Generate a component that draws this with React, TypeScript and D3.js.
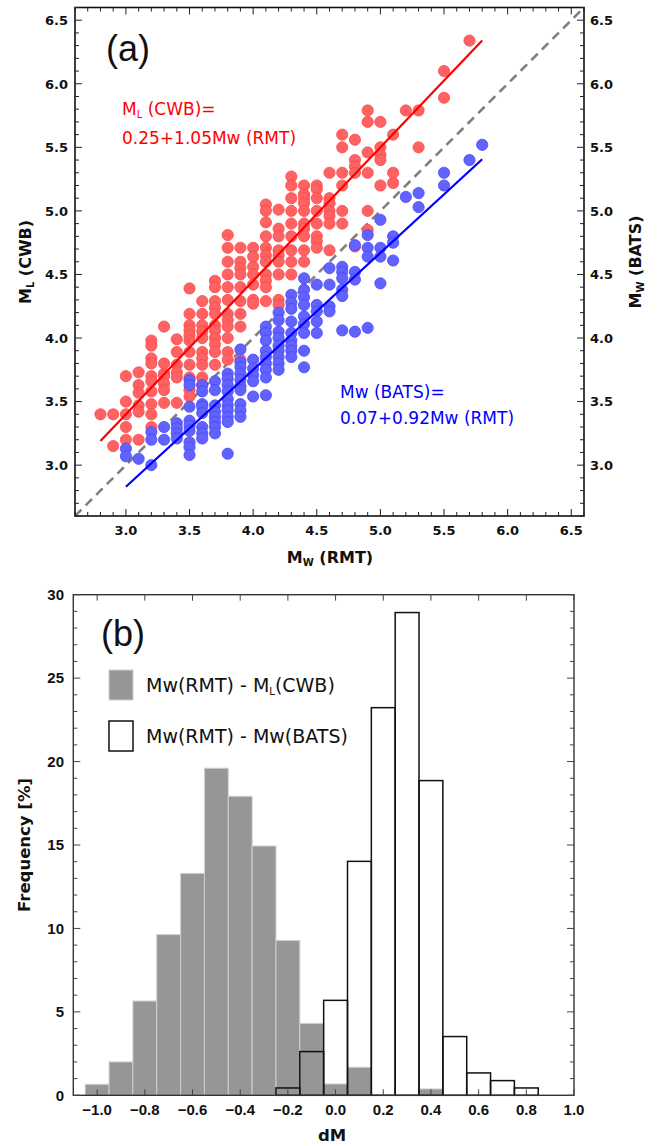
import * as d3 from 'd3';
import React, { useEffect, useRef } from 'react';

// ---- panel (a): magnitudes, grouped by Mw (RMT) ----
const mwRmtRed = [2.8, 2.9, 3.0, 3.1, 3.2, 3.3, 3.4, 3.5, 3.6, 3.7, 3.8, 3.9, 4.0, 4.1, 4.2, 4.3, 4.4, 4.5, 4.6, 4.7, 4.8, 4.9, 5.0, 5.1, 5.2, 5.3, 5.5, 5.7];
const mlCwb = [
  [3.4],
  [3.4, 3.15],
  [3.7, 3.5, 3.4, 3.3, 3.2],
  [3.73, 3.63, 3.57, 3.47, 3.42, 3.2],
  [3.98, 3.94, 3.84, 3.8, 3.7, 3.66, 3.58, 3.48, 3.4, 3.3],
  [4.09, 3.8, 3.72, 3.7, 3.64, 3.59, 3.49],
  [3.99, 3.89, 3.79, 3.73, 3.69, 3.49],
  [4.39, 4.19, 4.1, 4.06, 4.02, 3.98, 3.89, 3.79, 3.69, 3.59, 3.54],
  [4.29, 4.19, 4.1, 4.05, 4.0, 3.89, 3.84, 3.79, 3.69, 3.63],
  [4.45, 4.4, 4.29, 4.24, 4.19, 4.1, 4.06, 4.0, 3.95, 3.89, 3.79],
  [4.81, 4.71, 4.6, 4.5, 4.4, 4.3, 4.19, 4.14, 4.09, 4.0, 3.89, 3.83],
  [4.71, 4.6, 4.55, 4.5, 4.4, 4.29, 4.19, 4.09, 3.83],
  [4.71, 4.64, 4.56, 4.5, 4.42, 4.3, 4.27],
  [5.05, 5.0, 4.91, 4.8, 4.71, 4.65, 4.6, 4.5, 4.45, 4.4, 4.29],
  [5.01, 4.86, 4.8, 4.69, 4.65, 4.6, 4.5, 4.3, 4.26],
  [5.27, 5.2, 5.1, 5.0, 4.9, 4.8, 4.69, 4.6, 4.5],
  [5.2, 5.13, 5.1, 5.06, 5.0, 4.9, 4.86, 4.8, 4.69, 4.6],
  [5.2, 5.17, 5.1, 5.0, 4.9, 4.8, 4.76, 4.71],
  [5.3, 5.1, 5.06, 5.0, 4.96, 4.9, 4.69],
  [5.6, 5.5, 5.3, 5.2, 5.0, 4.9],
  [5.56, 5.4, 5.35, 5.3, 4.72],
  [5.79, 5.7, 5.46, 5.3, 5.0, 4.85],
  [5.7, 5.5, 5.44, 5.4, 5.2],
  [5.6, 5.3, 5.22],
  [5.79],
  [5.79, 5.5],
  [6.1, 5.89],
  [6.34],
];

const mwRmtBlue = [3.0, 3.1, 3.2, 3.3, 3.4, 3.5, 3.6, 3.7, 3.8, 3.9, 4.0, 4.1, 4.2, 4.3, 4.4, 4.5, 4.6, 4.7, 4.8, 4.9, 5.0, 5.1, 5.2, 5.3, 5.5, 5.7, 5.8];
const mwBats = [
  [3.13, 3.07],
  [3.05],
  [3.26, 3.2, 3.0],
  [3.3, 3.2],
  [3.33, 3.29, 3.25, 3.21],
  [3.67, 3.63, 3.46, 3.35, 3.31, 3.27, 3.18, 3.14, 3.08],
  [3.63, 3.58, 3.48, 3.46, 3.41, 3.3, 3.25, 3.21],
  [3.66, 3.59, 3.47, 3.42, 3.38, 3.34, 3.3, 3.25],
  [3.72, 3.68, 3.63, 3.58, 3.52, 3.47, 3.43, 3.38, 3.34, 3.09],
  [3.91, 3.81, 3.77, 3.72, 3.67, 3.62, 3.59, 3.48, 3.43, 3.38],
  [3.83, 3.76, 3.71, 3.66, 3.54],
  [4.09, 4.04, 3.98, 3.9, 3.85, 3.8, 3.75, 3.69, 3.55],
  [4.2, 4.14, 4.05, 4.0, 3.94, 3.9, 3.85, 3.8, 3.75],
  [4.34, 4.28, 4.23, 4.13, 4.04, 3.98, 3.94, 3.9, 3.85],
  [4.47, 4.38, 4.32, 4.26, 4.17, 4.11, 4.04, 3.9, 3.77],
  [4.42, 4.26, 4.21, 4.13, 4.04],
  [4.55, 4.42, 4.25, 4.21],
  [4.56, 4.52, 4.47, 4.38, 4.33, 4.06],
  [4.73, 4.52, 4.46, 4.05],
  [4.81, 4.71, 4.64, 4.08],
  [4.93, 4.71, 4.64, 4.43],
  [4.8, 4.75, 4.61],
  [5.11],
  [5.14, 5.03],
  [5.3, 5.2],
  [5.4],
  [5.52],
];

const fitCwb = { a: 0.25, b: 1.05, from: 2.8, to: 5.8 };
const fitBats = { a: 0.07, b: 0.92, from: 3.0, to: 5.8 };
const magTicks = [3.0, 3.5, 4.0, 4.5, 5.0, 5.5, 6.0, 6.5];

// ---- panel (b): histogram of dM ----
const binCenters = [-1.0, -0.9, -0.8, -0.7, -0.6, -0.5, -0.4, -0.3, -0.2, -0.1, 0.0, 0.1, 0.2, 0.3, 0.4, 0.5, 0.6, 0.7, 0.8];
const freqCwb = [0.66, 2.0, 5.65, 9.63, 13.3, 19.6, 17.92, 14.94, 9.28, 4.31, 0.68, 1.68, 0, 0, 0.38, 0, 0, 0, 0];
const freqBats = [0, 0, 0, 0, 0, 0, 0, 0, 0.44, 2.62, 5.69, 14.02, 23.23, 28.93, 18.86, 3.52, 1.34, 0.88, 0.44];
const dmTicks = [-1.0, -0.8, -0.6, -0.4, -0.2, 0.0, 0.2, 0.4, 0.6, 0.8, 1.0];
const freqTicks = [0, 5, 10, 15, 20, 25, 30];

const TICK_FONT = "'DejaVu Sans', sans-serif";

export default function App() {
  const svgRef = useRef(null);

  useEffect(() => {
    const svg = d3.select(svgRef.current);
    svg.selectAll('*').remove();

    // ================= panel (a) =================
    const x = d3.scaleLinear().domain([2.6, 6.6]).range([75, 584]);
    const y = d3.scaleLinear().domain([2.6, 6.6]).range([516, 7.5]);
    const ga = svg.append('g');

    const minorA = d3.range(26, 67).map((v) => v / 10);
    const [ax0, ax1] = x.range();
    const [ay0, ay1] = y.range();

    // 1:1 dashed line
    ga.append('line')
      .attr('x1', x(2.6)).attr('y1', y(2.6))
      .attr('x2', x(6.6)).attr('y2', y(6.6))
      .attr('stroke', '#808080').attr('stroke-width', 2.6)
      .attr('stroke-dasharray', '9,6');

    const redPts = mwRmtRed.flatMap((m, i) => mlCwb[i].map((v) => [m, v]));
    const bluePts = mwRmtBlue.flatMap((m, i) => mwBats[i].map((v) => [m, v]));

    ga.selectAll('.red')
      .data(redPts)
      .enter()
      .append('circle')
      .attr('cx', (d) => x(d[0]))
      .attr('cy', (d) => y(d[1]))
      .attr('r', 5.6)
      .attr('fill', '#ff6262')
      .attr('stroke', '#ff4848')
      .attr('stroke-width', 0.8);

    ga.selectAll('.blue')
      .data(bluePts)
      .enter()
      .append('circle')
      .attr('cx', (d) => x(d[0]))
      .attr('cy', (d) => y(d[1]))
      .attr('r', 5.6)
      .attr('fill', '#6262ff')
      .attr('stroke', '#4848ff')
      .attr('stroke-width', 0.8);

    const fitLine = d3.line().x((d) => x(d[0])).y((d) => y(d[1]));
    [[fitCwb, '#ff0000'], [fitBats, '#0000ff']].forEach(([f, c]) => {
      ga.append('path')
        .attr('d', fitLine([f.from, f.to].map((m) => [m, f.a + f.b * m])))
        .attr('stroke', c)
        .attr('stroke-width', 2.2)
        .attr('fill', 'none');
    });

    // frame + ticks
    ga.append('rect')
      .attr('x', ax0).attr('y', ay1)
      .attr('width', ax1 - ax0).attr('height', ay0 - ay1)
      .attr('fill', 'none').attr('stroke', '#111').attr('stroke-width', 1.6);

    minorA.forEach((v) => {
      const major = Math.abs(v * 2 - Math.round(v * 2)) < 1e-6;
      const len = major ? 7 : 4;
      ga.append('line').attr('x1', x(v)).attr('x2', x(v)).attr('y1', ay0).attr('y2', ay0 - len).attr('stroke', '#222');
      ga.append('line').attr('x1', x(v)).attr('x2', x(v)).attr('y1', ay1).attr('y2', ay1 + len).attr('stroke', '#222');
      ga.append('line').attr('y1', y(v)).attr('y2', y(v)).attr('x1', ax0).attr('x2', ax0 + len).attr('stroke', '#222');
      ga.append('line').attr('y1', y(v)).attr('y2', y(v)).attr('x1', ax1).attr('x2', ax1 - len).attr('stroke', '#222');
    });

    const fmt = d3.format('.1f');
    const ta = ga.append('g')
      .attr('font-family', TICK_FONT)
      .attr('font-weight', 'bold')
      .attr('font-size', 13)
      .attr('fill', '#111');
    magTicks.forEach((v) => {
      ta.append('text').attr('x', 68).attr('y', y(v) + 4.8)
        .attr('text-anchor', 'end').text(fmt(v));
      ta.append('text').attr('x', 590).attr('y', y(v) + 4.8)
        .attr('text-anchor', 'start').text(fmt(v));
      ta.append('text').attr('x', x(v)).attr('y', 535)
        .attr('text-anchor', 'middle').text(fmt(v));
    });

    // axis titles
    const title = (g, tx, ty, rot, main, sub, rest) => {
      const t = g.append('text')
        .attr('transform', `translate(${tx},${ty}) rotate(${rot})`)
        .attr('text-anchor', 'middle')
        .attr('font-family', TICK_FONT)
        .attr('font-weight', 'bold')
        .attr('font-size', 16)
        .attr('fill', '#111');
      t.append('tspan').text(main);
      t.append('tspan').attr('font-size', 10).attr('dy', 3).text(sub);
      t.append('tspan').attr('dy', -3).text(rest);
    };
    title(ga, 330, 563, 0, 'M', 'W', ' (RMT)');
    title(ga, 31, 262, -90, 'M', 'L', ' (CWB)');
    title(ga, 641, 262, -90, 'M', 'W', ' (BATS)');

    ga.append('text').attr('x', 106).attr('y', 61)
      .attr('font-family', "'Liberation Sans', Arial, sans-serif")
      .attr('font-size', 36).attr('fill', '#111').text('(a)');

    // red equation
    const r1 = ga.append('text').attr('x', 122).attr('y', 115)
      .attr('font-family', TICK_FONT).attr('font-size', 17).attr('fill', '#ff0000');
    r1.append('tspan').text('M');
    r1.append('tspan').attr('font-size', 10).attr('dy', 3).text('L');
    r1.append('tspan').attr('dy', -3).text(' (CWB)=');
    ga.append('text').attr('x', 122).attr('y', 144)
      .attr('font-family', TICK_FONT).attr('font-size', 17).attr('fill', '#ff0000')
      .text(`${fitCwb.a.toFixed(2)}+${fitCwb.b.toFixed(2)}Mw (RMT)`);
    // blue equation
    ga.append('text').attr('x', 340).attr('y', 398)
      .attr('font-family', TICK_FONT).attr('font-size', 17).attr('fill', '#0000ff')
      .text('Mw (BATS)=');
    ga.append('text').attr('x', 340).attr('y', 424)
      .attr('font-family', TICK_FONT).attr('font-size', 17).attr('fill', '#0000ff')
      .text(`${fitBats.a.toFixed(2)}+${fitBats.b.toFixed(2)}Mw (RMT)`);

    // ================= panel (b) =================
    const hx = d3.scaleLinear().domain([-1.1, 1.0]).range([73.3, 574]);
    const hy = d3.scaleLinear().domain([0, 30]).range([1095.3, 594.7]);
    const gb = svg.append('g');
    const [bx0, bx1] = hx.range();
    const [by0, by1] = hy.range();
    const half = 0.05;

    gb.selectAll('.gray')
      .data(binCenters.map((c, i) => [c, freqCwb[i]]).filter((d) => d[1] > 0))
      .enter()
      .append('rect')
      .attr('x', (d) => hx(d[0] - half))
      .attr('y', (d) => hy(d[1]))
      .attr('width', (d) => hx(d[0] + half) - hx(d[0] - half))
      .attr('height', (d) => hy(0) - hy(d[1]))
      .attr('fill', '#969696')
      .attr('stroke', '#cfcfcf')
      .attr('stroke-width', 1);

    gb.selectAll('.white')
      .data(binCenters.map((c, i) => [c, freqBats[i]]).filter((d) => d[1] > 0))
      .enter()
      .append('rect')
      .attr('x', (d) => hx(d[0] - half))
      .attr('y', (d) => hy(d[1]))
      .attr('width', (d) => hx(d[0] + half) - hx(d[0] - half))
      .attr('height', (d) => hy(0) - hy(d[1]))
      .attr('fill', 'none')
      .attr('stroke', '#111')
      .attr('stroke-width', 1.5);

    gb.append('rect')
      .attr('x', bx0).attr('y', by1)
      .attr('width', bx1 - bx0).attr('height', by0 - by1)
      .attr('fill', 'none').attr('stroke', '#333').attr('stroke-width', 1.4);

    dmTicks.forEach((v) => {
      gb.append('line').attr('x1', hx(v)).attr('x2', hx(v)).attr('y1', by0).attr('y2', by0 - 6).attr('stroke', '#444');
      gb.append('line').attr('x1', hx(v)).attr('x2', hx(v)).attr('y1', by1).attr('y2', by1 + 6).attr('stroke', '#444');
    });
    d3.range(0, 31).forEach((v) => {
      const len = v % 5 === 0 ? 7 : 4;
      gb.append('line').attr('y1', hy(v)).attr('y2', hy(v)).attr('x1', bx0).attr('x2', bx0 + len).attr('stroke', '#444');
      gb.append('line').attr('y1', hy(v)).attr('y2', hy(v)).attr('x1', bx1).attr('x2', bx1 - len).attr('stroke', '#444');
    });

    const fmtB = d3.format('.1f');
    const tb = gb.append('g')
      .attr('font-family', "'Liberation Sans', Arial, sans-serif")
      .attr('font-weight', 'bold')
      .attr('font-size', 15)
      .attr('fill', '#111');
    dmTicks.forEach((v) => {
      tb.append('text').attr('x', hx(v)).attr('y', 1115)
        .attr('text-anchor', 'middle').text(fmtB(v));
    });
    freqTicks.forEach((v) => {
      tb.append('text').attr('x', 64).attr('y', hy(v) + 5.3)
        .attr('text-anchor', 'end').text(v);
    });

    gb.append('text')
      .attr('transform', `translate(30,845) rotate(-90)`)
      .attr('text-anchor', 'middle')
      .attr('font-family', TICK_FONT).attr('font-weight', 'bold')
      .attr('font-size', 16.5).attr('fill', '#111')
      .text('Frequency [%]');
    gb.append('text')
      .attr('x', 332).attr('y', 1141)
      .attr('text-anchor', 'middle')
      .attr('font-family', TICK_FONT).attr('font-weight', 'bold')
      .attr('font-size', 16.5).attr('fill', '#111')
      .text('dM');

    gb.append('text').attr('x', 101).attr('y', 646)
      .attr('font-family', "'Liberation Sans', Arial, sans-serif")
      .attr('font-size', 36).attr('fill', '#111').text('(b)');

    // legend
    gb.append('rect').attr('x', 109).attr('y', 670).attr('width', 24).attr('height', 30)
      .attr('fill', '#969696').attr('stroke', '#cfcfcf').attr('stroke-width', 1);
    gb.append('rect').attr('x', 109).attr('y', 721).attr('width', 24).attr('height', 30)
      .attr('fill', '#fff').attr('stroke', '#111').attr('stroke-width', 1.5);
    const l1 = gb.append('text').attr('x', 146).attr('y', 692)
      .attr('font-family', TICK_FONT).attr('font-size', 19).attr('fill', '#111');
    l1.append('tspan').text('Mw(RMT) - M');
    l1.append('tspan').attr('font-size', 10).attr('dy', 3).text('L');
    l1.append('tspan').attr('dy', -3).text('(CWB)');
    gb.append('text').attr('x', 146).attr('y', 743)
      .attr('font-family', TICK_FONT).attr('font-size', 19).attr('fill', '#111')
      .text('Mw(RMT) - Mw(BATS)');
  }, []);

  return (
    <svg
      ref={svgRef}
      width={659}
      height={1146}
      style={{ position: 'absolute', left: 0, top: 0, background: '#fff' }}
    />
  );
}
